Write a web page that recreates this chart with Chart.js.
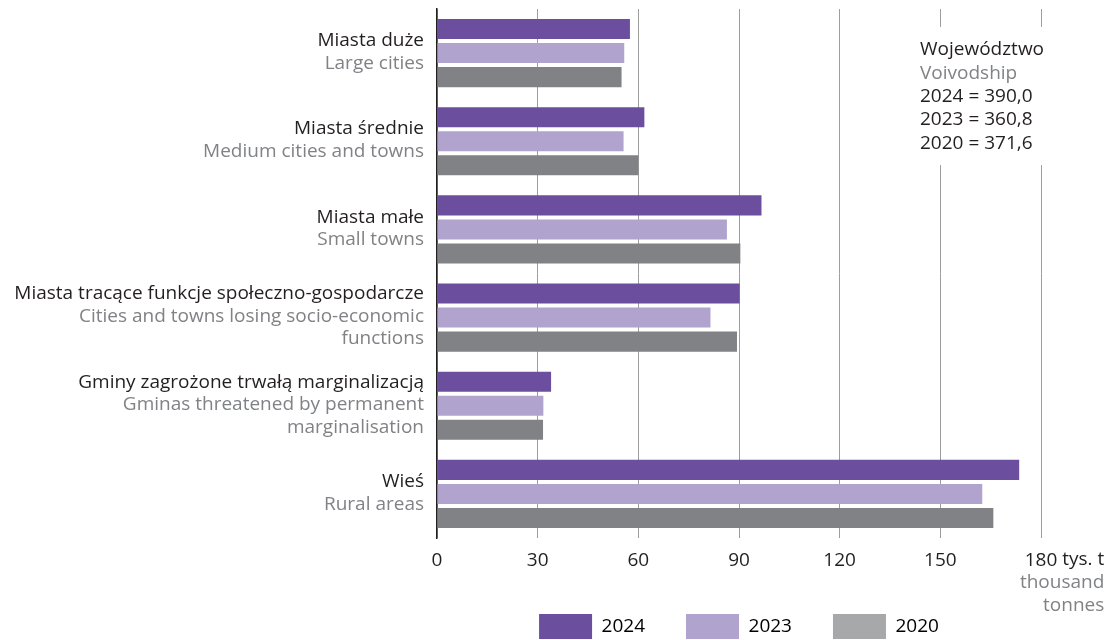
<!DOCTYPE html>
<html>
<head>
<meta charset="utf-8">
<script src="https://cdn.jsdelivr.net/npm/chart.js@4"></script>
<style>
  body { margin: 0; background: #fff; }
  #wrap { width: 1112px; height: 640px; }
</style>
</head>
<body>
<div id="wrap"><canvas id="chart" width="1112" height="640"></canvas></div>
<script>
// categories (Polish name + English lines)
const categoriesPl = ['Miasta duże', 'Miasta średnie', 'Miasta małe',
  'Miasta tracące funkcje społeczno-gospodarcze', 'Gminy zagrożone trwałą marginalizacją', 'Wieś'];
const categoriesEn = [['Large cities'], ['Medium cities and towns'], ['Small towns'],
  ['Cities and towns losing socio-economic', 'functions'],
  ['Gminas threatened by permanent', 'marginalisation'], ['Rural areas']];

// thousand tonnes
const years = ['2024', '2023', '2020'];
const values2024 = [57.5, 61.8, 96.7, 90.2, 34.0, 173.5];
const values2023 = [55.8, 55.6, 86.4, 81.5, 31.7, 162.5];
const values2020 = [55.0, 60.0, 90.4, 89.4, 31.6, 165.8];

const xTicks = [0, 30, 60, 90, 120, 150, 180];
const unitPl = 'tys. t';
const unitEn = ['thousand', 'tonnes'];

const voivTitlePl = 'Województwo';
const voivTitleEn = 'Voivodship';
const voivTotals = ['390,0', '360,8', '371,6'];

const barColors = ['#6b4f9e', '#b0a3ce', '#818285'];
const legendColors = ['#6b4f9e', '#b0a3ce', '#a7a8aa'];
const DARK = '#231f20';
const GREY = '#808285';
const FONT = "'Open Sans', sans-serif";
const FS = 19;

Chart.defaults.font.family = FONT;
Chart.defaults.font.size = FS;
Chart.defaults.color = DARK;

// left labels: black Polish line, grey English lines
const categoryLabels = {
  id: 'categoryLabels',
  afterDraw(chart) {
    const ctx = chart.ctx;
    const y = chart.scales.y;
    const x0 = chart.chartArea.left - 13;
    const lh = 22.5;
    ctx.save();
    ctx.font = FS + 'px ' + FONT;
    ctx.textAlign = 'right';
    ctx.textBaseline = 'middle';
    categoriesPl.forEach((pl, i) => {
      const lines = [pl].concat(categoriesEn[i]);
      const c = y.getPixelForValue(i) - 1;
      let ty = c - (lines.length - 1) * lh / 2;
      lines.forEach((t, j) => {
        ctx.fillStyle = j === 0 ? DARK : GREY;
        ctx.fillText(t, x0, ty);
        ty += lh;
      });
    });
    ctx.restore();
  }
};

// unit next to the last tick + voivodship totals box
const extras = {
  id: 'extras',
  afterDraw(chart) {
    const ctx = chart.ctx;
    const xs = chart.scales.x;
    const area = chart.chartArea;
    ctx.save();
    ctx.font = FS + 'px ' + FONT;
    ctx.textBaseline = 'middle';

    const last = xTicks[xTicks.length - 1];
    const px = xs.getPixelForValue(last);
    const w = ctx.measureText(String(last)).width;
    const sp = ctx.measureText(' ').width;
    const ly = area.bottom + 22;
    ctx.textAlign = 'left';
    ctx.fillStyle = DARK;
    const ux = px + w / 2 + sp;
    ctx.fillText(unitPl, ux, ly);
    const uRight = ux + ctx.measureText(unitPl).width;
    ctx.textAlign = 'right';
    ctx.fillStyle = GREY;
    unitEn.forEach((t, i) => ctx.fillText(t, uRight, ly + 23 * (i + 1)));

    // totals box
    ctx.fillStyle = '#fff';
    ctx.fillRect(908, 27, 160, 138);
    ctx.textAlign = 'left';
    const bx = 920;
    let by = 50;
    ctx.fillStyle = DARK;
    ctx.fillText(voivTitlePl, bx, by);
    by += 23.3;
    ctx.fillStyle = GREY;
    ctx.fillText(voivTitleEn, bx, by);
    ctx.fillStyle = DARK;
    years.forEach((yr, i) => {
      by += 23.3;
      ctx.fillText(yr + ' = ' + voivTotals[i], bx, by);
    });
    ctx.restore();
  }
};

const seriesValues = [values2024, values2023, values2020];

new Chart(document.getElementById('chart'), {
  type: 'bar',
  data: {
    labels: categoriesPl,
    datasets: years.map((yr, i) => ({
      label: yr,
      data: seriesValues[i],
      backgroundColor: barColors[i],
      borderWidth: 0,
      categoryPercentage: 0.818,
      barPercentage: 0.833
    }))
  },
  options: {
    indexAxis: 'y',
    responsive: false,
    animation: false,
    layout: { padding: { top: 9, left: 437, right: 71, bottom: -9 } },
    scales: {
      x: {
        min: 0,
        max: 180,
        afterBuildTicks(scale) { scale.ticks = xTicks.map(v => ({ value: v })); },
        afterFit(scale) { scale.height = 35; },
        ticks: { padding: 11, color: DARK, font: { size: FS } },
        grid: { color: '#9d9d9d', lineWidth: 1, drawTicks: false },
        border: { display: false }
      },
      y: {
        afterFit(scale) { scale.width = 0; },
        ticks: { display: false },
        grid: { display: false },
        border: { display: true, color: DARK, width: 1.5 }
      }
    },
    plugins: {
      tooltip: { enabled: false },
      legend: {
        position: 'bottom',
        fullSize: false,
        labels: {
          boxWidth: 53,
          boxHeight: 25,
          padding: 41,
          color: DARK,
          font: { size: FS },
          generateLabels(chart) {
            return chart.data.datasets.map((ds, i) => ({
              text: ds.label,
              fillStyle: legendColors[i],
              strokeStyle: legendColors[i],
              lineWidth: 0,
              datasetIndex: i,
              hidden: false
            }));
          }
        }
      }
    }
  },
  plugins: [categoryLabels, extras]
});
</script>
</body>
</html>
